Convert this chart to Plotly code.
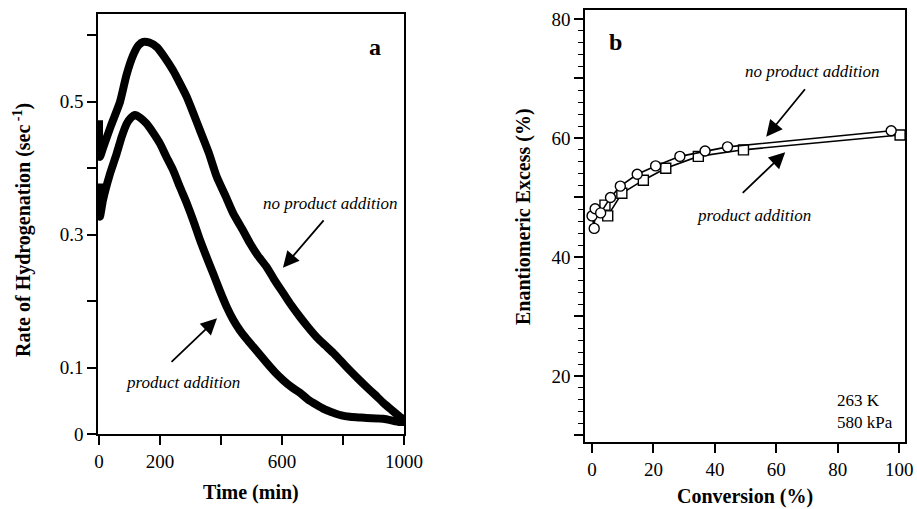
import plotly.graph_objects as go

# ---- Panel a: rate of hydrogenation vs time ----
time_no_add = [0, 3, 13, 40, 69, 90, 112, 130, 145, 165, 190, 215, 243, 265, 288, 310, 331, 360,
               386, 415, 440, 470, 495, 520, 550, 575, 604, 630, 659, 685, 713, 740, 768, 795,
               822, 850, 877, 905, 932, 960, 986, 1000]
rate_no_add = [0.472, 0.417, 0.43, 0.465, 0.50, 0.54, 0.57, 0.585, 0.59, 0.589, 0.582, 0.567,
               0.547, 0.528, 0.507, 0.482, 0.457, 0.423, 0.387, 0.358, 0.332, 0.308, 0.287,
               0.269, 0.251, 0.232, 0.212, 0.194, 0.176, 0.161, 0.146, 0.134, 0.122, 0.109,
               0.096, 0.083, 0.071, 0.059, 0.047, 0.036, 0.026, 0.022]

time_add = [0, 3, 13, 35, 58, 75, 91, 105, 118, 135, 156, 178, 200, 220, 243, 265, 288, 310,
            331, 352, 374, 396, 419, 440, 462, 484, 506, 528, 550, 577, 604, 630, 659, 685,
            713, 740, 768, 795, 822, 850, 877, 932, 986, 1000]
rate_add = [0.377, 0.327, 0.352, 0.39, 0.422, 0.448, 0.467, 0.476, 0.48, 0.476, 0.467, 0.453,
            0.437, 0.418, 0.397, 0.372, 0.347, 0.320, 0.292, 0.267, 0.242, 0.216, 0.191,
            0.172, 0.156, 0.143, 0.131, 0.119, 0.107, 0.093, 0.081, 0.071, 0.062, 0.052,
            0.044, 0.037, 0.032, 0.028, 0.026, 0.025, 0.024, 0.023, 0.018, 0.018]

# ---- Panel b: enantiomeric excess vs conversion ----
conv_no_add = [0.0, 0.7, 1.0, 2.8, 6.0, 9.2, 14.7, 20.7, 28.6, 36.8, 44.1, 97.4]
ee_no_add = [46.9, 44.8, 48.1, 47.4, 50.0, 51.9, 53.9, 55.3, 56.9, 57.8, 58.5, 61.2]

conv_add = [1.5, 4.2, 5.1, 9.7, 16.7, 24.0, 34.6, 49.3, 100.3]
ee_add = [47.7, 48.7, 46.9, 50.7, 52.9, 54.9, 56.9, 58.0, 60.5]

FONT = "Liberation Serif"
BLACK = "#000000"
W, H = 917, 509

fig = go.Figure()

fig.add_trace(go.Scatter(x=time_no_add, y=rate_no_add, mode="lines",
                         line=dict(color=BLACK, width=8, shape="spline", smoothing=0.6),
                         xaxis="x", yaxis="y", showlegend=False))
fig.add_trace(go.Scatter(x=time_add, y=rate_add, mode="lines",
                         line=dict(color=BLACK, width=8, shape="spline", smoothing=0.6),
                         xaxis="x", yaxis="y", showlegend=False))

fig.add_trace(go.Scatter(x=conv_add, y=ee_add, mode="lines+markers",
                         line=dict(color=BLACK, width=1.6),
                         marker=dict(symbol="square", size=10, color="white",
                                     line=dict(color=BLACK, width=1.4)),
                         xaxis="x2", yaxis="y2", showlegend=False))
fig.add_trace(go.Scatter(x=conv_no_add, y=ee_no_add, mode="lines+markers",
                         line=dict(color=BLACK, width=1.6),
                         marker=dict(symbol="circle", size=10, color="white",
                                     line=dict(color=BLACK, width=1.4)),
                         xaxis="x2", yaxis="y2", showlegend=False))

tickfont = dict(family=FONT, size=19, color=BLACK)
titlefont = dict(family=FONT, size=20, color=BLACK)

axis_common = dict(showline=True, linecolor=BLACK, linewidth=1.5, mirror=True,
                   ticks="outside", tickcolor=BLACK, tickwidth=1.5, ticklen=9,
                   showgrid=False, zeroline=False, tickfont=tickfont, automargin=False)

fig.update_layout(
    width=W, height=H,
    margin=dict(l=0, r=0, t=0, b=0, autoexpand=False),
    paper_bgcolor="white", plot_bgcolor="white",
    xaxis=dict(domain=[98 / W, 404 / W], range=[-3.3, 1000], anchor="y",
               tickmode="array", tickvals=[0, 200, 400, 600, 800, 1000],
               ticktext=["0", "200", "", "600", "", "1000"],
               **axis_common),
    yaxis=dict(domain=[1 - 434 / H, 1 - 14 / H], range=[0, 0.632], anchor="x",
               tickmode="array", tickvals=[0, 0.1, 0.2, 0.3, 0.4, 0.5, 0.6],
               ticktext=["0", "0.1", "", "0.3", "", "0.5", ""],
               **axis_common),
    xaxis2=dict(domain=[585 / W, 905 / W], range=[-2.3, 101.9], anchor="y2",
                tickmode="array", tickvals=[0, 20, 40, 60, 80, 100],
                ticktext=["0", "20", "40", "60", "80", "100"],
                **axis_common),
    yaxis2=dict(domain=[1 - 442 / H, 1 - 10 / H], range=[8.9, 81.5], anchor="x2",
                tickmode="array", tickvals=[10, 20, 30, 40, 50, 60, 70, 80],
                ticktext=["", "20", "", "40", "", "60", "", "80"],
                minor=dict(ticks="outside", dtick=2, tick0=0, ticklen=5,
                           tickwidth=1.2, tickcolor=BLACK),
                **axis_common),
)

ital = dict(family=FONT, size=17, color=BLACK)
arrow = dict(text="", showarrow=True, arrowhead=2, arrowsize=1.8, arrowwidth=1.8,
             arrowcolor=BLACK)
centered = dict(showarrow=False, xanchor="center", yanchor="middle")
anns = [
    # axis titles
    dict(x=251 / W, y=1 - 492 / H, xref="paper", yref="paper", text="<b>Time (min)</b>",
         font=titlefont, **centered),
    dict(x=22 / W, y=1 - 230 / H, xref="paper", yref="paper", textangle=-90,
         text="<b>Rate of Hydrogenation (sec<sup> -1</sup>)</b>", font=titlefont,
         **centered),
    dict(x=745 / W, y=1 - 496 / H, xref="paper", yref="paper",
         text="<b>Conversion (%)</b>", font=titlefont, **centered),
    dict(x=523 / W, y=1 - 217 / H, xref="paper", yref="paper", textangle=-90,
         text="<b>Enantiomeric Excess (%)</b>", font=titlefont, **centered),
    # panel a
    dict(x=905, y=0.582, xref="x", yref="y", text="<b>a</b>",
         font=dict(family=FONT, size=24, color=BLACK), **centered),
    dict(x=757, y=0.347, xref="x", yref="y", text="<i>no product addition</i>",
         font=ital, **centered),
    dict(x=275, y=0.077, xref="x", yref="y", text="<i>product addition</i>",
         font=ital, **centered),
    dict(x=603, y=0.250, xref="x", yref="y", ax=42, ay=-49, **arrow),
    dict(x=387, y=0.174, xref="x", yref="y", ax=-47, ay=45, **arrow),
    # panel b
    dict(x=7.5, y=76.1, xref="x2", yref="y2", text="<b>b</b>",
         font=dict(family=FONT, size=24, color=BLACK), **centered),
    dict(x=71.7, y=71.1, xref="x2", yref="y2", text="<i>no product addition</i>",
         font=ital, **centered),
    dict(x=52.8, y=46.9, xref="x2", yref="y2", text="<i>product addition</i>",
         font=ital, **centered),
    dict(x=56.7, y=60.2, xref="x2", yref="y2", ax=40, ay=-49, **arrow),
    dict(x=62.9, y=57.6, xref="x2", yref="y2", ax=-44, ay=42, **arrow),
    dict(x=79.2, y=14.1, xref="x2", yref="y2", text="263 K<br>580 kPa",
         showarrow=False, xanchor="left", yanchor="middle", align="left",
         font=dict(family=FONT, size=17, color=BLACK)),
]
fig.update_layout(annotations=anns)

fig.write_html("out.html")
